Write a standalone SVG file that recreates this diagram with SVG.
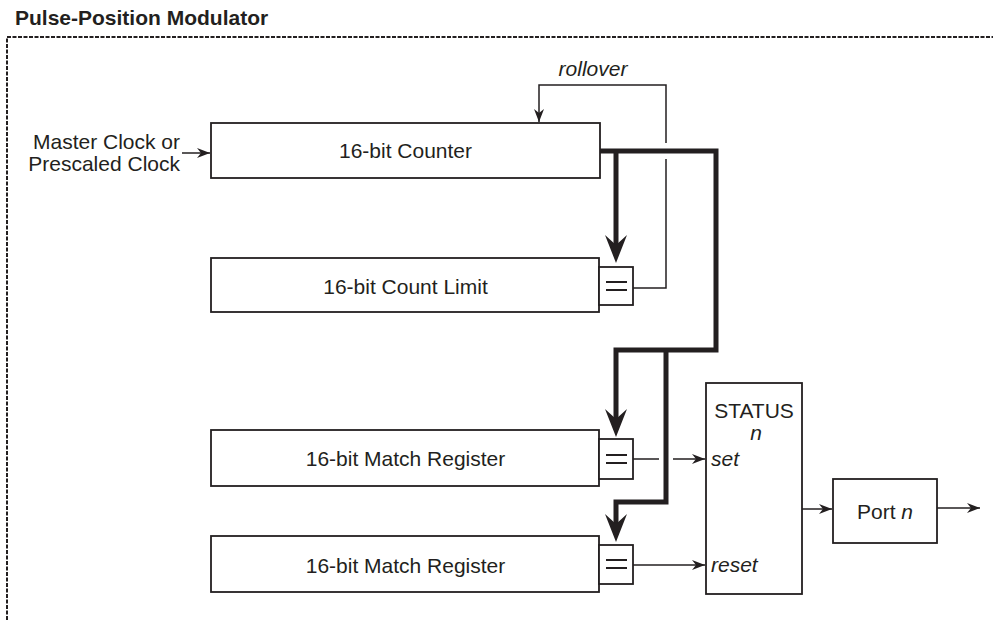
<svg xmlns="http://www.w3.org/2000/svg" width="993" height="620" viewBox="0 0 993 620">
<defs>
<style>
text{font-family:"Liberation Sans",Arial,sans-serif;font-size:21px;fill:#231f20}
.it{font-style:italic}
.box{fill:#fff;stroke:#231f20;stroke-width:1.8}
.thin{fill:none;stroke:#231f20;stroke-width:1.5}
.bus{fill:none;stroke:#231f20;stroke-width:5;stroke-linejoin:miter}
.head{fill:#231f20}
.eq{stroke:#231f20;stroke-width:1.8}
</style>
<marker id="a" markerUnits="userSpaceOnUse" markerWidth="16" markerHeight="12" viewBox="-14 -6 15 12" refX="0" refY="0" orient="auto">
<path d="M0,0 L-13,-5 L-9,0 L-13,5 Z" fill="#231f20"/>
</marker>
</defs>
<text x="15" y="25" style="font-weight:bold">Pulse-Position Modulator</text>
<path d="M7,620 V37 H993" fill="none" stroke="#231f20" stroke-width="2" stroke-dasharray="4,1.5"/>

<g id="connectors">
<path class="thin" d="M182,153 H210" marker-end="url(#a)"/>
<path class="thin" d="M633,288 H666 V159 M666,143 V85 H539 V122" marker-end="url(#a)"/>
<path class="bus" d="M600,151 H716 V350 H616 V421"/>
<path class="bus" d="M616,151 V247"/>
<path class="bus" d="M666,350 V502 H616 V526"/>
<path class="head" d="M616,263 L605,235 L616,245 L627,235 Z"/>
<path class="head" d="M616,437 L605,409 L616,419 L627,409 Z"/>
<path class="head" d="M616,542 L605,514 L616,524 L627,514 Z"/>
<path class="thin" d="M633,459 H659 M673,459 H705" marker-end="url(#a)"/>
<path class="thin" d="M633,565 H705" marker-end="url(#a)"/>
<path class="thin" d="M802,509 H832" marker-end="url(#a)"/>
<path class="thin" d="M937,508 H980" marker-end="url(#a)"/>
</g>

<g id="clock-input">
<text x="180" y="149" text-anchor="end">Master Clock or</text>
<text x="180" y="171" text-anchor="end">Prescaled Clock</text>
</g>
<text class="it" x="593" y="76" text-anchor="middle">rollover</text>

<g id="counter">
<rect class="box" x="211" y="123" width="389" height="55"/>
<text x="405.5" y="158" text-anchor="middle">16-bit Counter</text>
</g>

<g id="count-limit">
<rect class="box" x="211" y="258" width="388" height="54"/>
<text x="405.5" y="294" text-anchor="middle">16-bit Count Limit</text>
</g>
<g id="cmp-limit">
<rect class="box" x="599" y="267" width="34" height="38"/>
<path class="eq" d="M606,282 H627 M606,290 H627"/>
</g>

<g id="match1">
<rect class="box" x="211" y="430" width="388" height="56"/>
<text x="405.5" y="466" text-anchor="middle">16-bit Match Register</text>
</g>
<g id="cmp-match1">
<rect class="box" x="599" y="439" width="34" height="40"/>
<path class="eq" d="M606,455 H627 M606,463 H627"/>
</g>

<g id="match2">
<rect class="box" x="211" y="536" width="388" height="56"/>
<text x="405.5" y="573" text-anchor="middle">16-bit Match Register</text>
</g>
<g id="cmp-match2">
<rect class="box" x="599" y="545" width="34" height="39"/>
<path class="eq" d="M606,560 H627 M606,568 H627"/>
</g>

<g id="status">
<rect class="box" x="706" y="383" width="96" height="211"/>
<text x="754" y="418" text-anchor="middle">STATUS</text>
<text class="it" x="756" y="440" text-anchor="middle">n</text>
<text class="it" x="711" y="466">set</text>
<text class="it" x="711" y="572">reset</text>
</g>

<g id="port">
<rect class="box" x="833" y="479" width="104" height="64"/>
<text x="885" y="519" text-anchor="middle">Port <tspan class="it">n</tspan></text>
</g>
</svg>
